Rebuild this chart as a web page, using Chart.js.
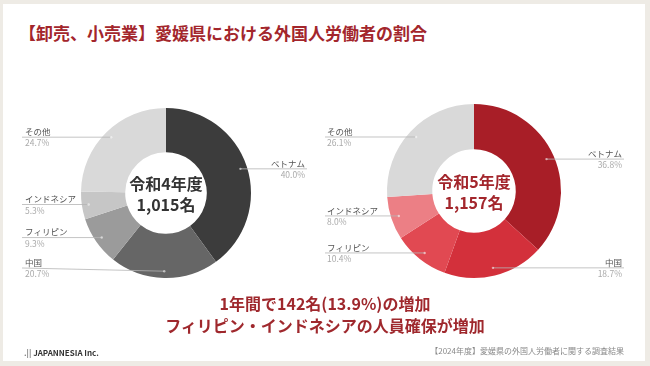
<!DOCTYPE html>
<html lang="ja">
<head>
  <meta charset="UTF-8" />
  <title>卸売、小売業 外国人労働者の割合</title>
  <script src="https://cdn.jsdelivr.net/npm/chart.js"></script>
  <style>
    body { margin: 0; width: 650px; height: 366px; background: #eeebe5; position: relative; overflow: hidden;
           font-family: "Noto Sans CJK JP", "Noto Sans", sans-serif; }
    .card { position: absolute; left: 3px; top: 4px; width: 642px; height: 357px; background: #fff; }
    .title { position: absolute; left: 19px; top: 20px; font-size: 17px; font-weight: bold; color: #a3262c;
             white-space: nowrap; }
    .summary { position: absolute; left: 0; width: 650px; text-align: center; font-size: 16px; font-weight: bold;
               color: #9f282d; white-space: nowrap; }
    .logo { position: absolute; left: 24px; top: 347px; font-size: 8px; font-weight: bold; color: #333; }
    .source { position: absolute; right: 26px; top: 345px; font-size: 8px; color: #888; white-space: nowrap; }
    canvas { position: absolute; top: 0; }
  </style>
</head>
<body>
  <div class="card"></div>
  <div class="title">【卸売、小売業】愛媛県における外国人労働者の割合</div>
  <canvas id="chart4" width="325" height="366" style="left:0"></canvas>
  <canvas id="chart5" width="325" height="366" style="left:325px"></canvas>
  <div class="summary" style="top:291px">1年間で142名(13.9%)の増加</div>
  <div class="summary" style="top:313px">フィリピン・インドネシアの人員確保が増加</div>
  <div class="logo"><span style="color:#777">.|| </span>JAPANNESIA Inc.</div>
  <div class="source">【2024年度】愛媛県の外国人労働者に関する調査結果</div>

  <script>
    // categories in drawing order (clockwise from 12 o'clock)
    const categories = ['ベトナム', '中国', 'フィリピン', 'インドネシア', 'その他'];
    const shareR4 = [40.0, 20.7, 9.3, 5.3, 24.7];
    const shareR5 = [36.8, 18.7, 10.4, 8.0, 26.1];
    const centerR4 = ['令和4年度', '1,015名'];
    const centerR5 = ['令和5年度', '1,157名'];

    const greys = ['#3c3c3c', '#666666', '#9b9b9b', '#c6c6c6', '#d9d9d9'];
    const reds = ['#a81e27', '#d3303b', '#e14952', '#ec7f85', '#d9d9d9'];

    // outside labels with leader lines + the text in the hole
    const sideLabels = {
      id: 'sideLabels',
      afterDatasetsDraw(chart, args, opts) {
        const { ctx, chartArea } = chart;
        const meta = chart.getDatasetMeta(0);
        const values = chart.data.datasets[0].data;
        let cx = 0, cy = 0;
        const items = meta.data.map((arc, i) => {
          const p = arc.getProps(['x', 'y', 'startAngle', 'endAngle', 'outerRadius'], true);
          cx = p.x; cy = p.y;
          const mid = (p.startAngle + p.endAngle) / 2;
          const r = p.outerRadius * opts.dotRatio;
          return { i, px: p.x + Math.cos(mid) * r, py: p.y + Math.sin(mid) * r, right: Math.cos(mid) > 0 };
        });

        const maxY = chartArea.bottom - 10;
        [true, false].forEach(side => {
          const list = items.filter(d => d.right === side).sort((a, b) => a.py - b.py);
          list.forEach((d, k) => {
            d.ly = k ? Math.max(d.py, list[k - 1].ly + opts.minGap) : d.py;
          });
          for (let k = list.length - 1; k >= 0; k--) {
            const lim = k === list.length - 1 ? maxY : list[k + 1].ly - opts.minGap;
            list[k].ly = Math.min(list[k].ly, lim);
          }
        });

        ctx.save();
        items.forEach(d => {
          const x = d.right ? opts.rightX : opts.leftX;
          ctx.strokeStyle = '#b5b5b5';
          ctx.lineWidth = 0.8;
          ctx.beginPath();
          ctx.moveTo(d.right ? x + 2 : x - 3, d.ly);
          ctx.lineTo(d.px, d.py);
          ctx.stroke();
          ctx.fillStyle = 'rgba(255,255,255,0.55)';
          ctx.beginPath();
          ctx.arc(d.px, d.py, 1.2, 0, Math.PI * 2);
          ctx.fill();

          ctx.textAlign = d.right ? 'right' : 'left';
          ctx.textBaseline = 'middle';
          ctx.font = '8.5px "Noto Sans CJK JP"';
          ctx.fillStyle = '#555';
          ctx.fillText(categories[d.i], x, d.ly - 5.5);
          ctx.fillStyle = '#aaa';
          ctx.fillText(values[d.i].toFixed(1) + '%', x, d.ly + 6);
        });

        ctx.textAlign = 'center';
        ctx.font = 'bold 16px "Noto Sans CJK JP"';
        ctx.fillStyle = opts.centerColor;
        ctx.fillText(opts.center[0], cx, cy - 9);
        ctx.fillText(opts.center[1], cx, cy + 12);
        ctx.restore();
      }
    };

    function makeDonut(id, values, colors, padding, labelOpts) {
      return new Chart(document.getElementById(id), {
        type: 'doughnut',
        data: {
          labels: categories,
          datasets: [{ data: values, backgroundColor: colors, borderWidth: 0, hoverOffset: 0 }]
        },
        options: {
          responsive: false,
          animation: false,
          cutout: '48%',
          layout: { padding },
          plugins: {
            legend: { display: false },
            tooltip: { enabled: false },
            sideLabels: labelOpts
          }
        },
        plugins: [sideLabels]
      });
    }

    makeDonut('chart4', shareR4, greys,
      { left: 81, right: 74, top: 108, bottom: 88 },
      { leftX: 25, rightX: 305, dotRatio: 0.92, minGap: 30, center: centerR4, centerColor: '#333' });

    makeDonut('chart5', shareR5, reds,
      { left: 62, right: 89, top: 104, bottom: 88 },
      { leftX: 2, rightX: 297, dotRatio: 0.91, minGap: 30, center: centerR5, centerColor: '#a3262c' });
  </script>
</body>
</html>
